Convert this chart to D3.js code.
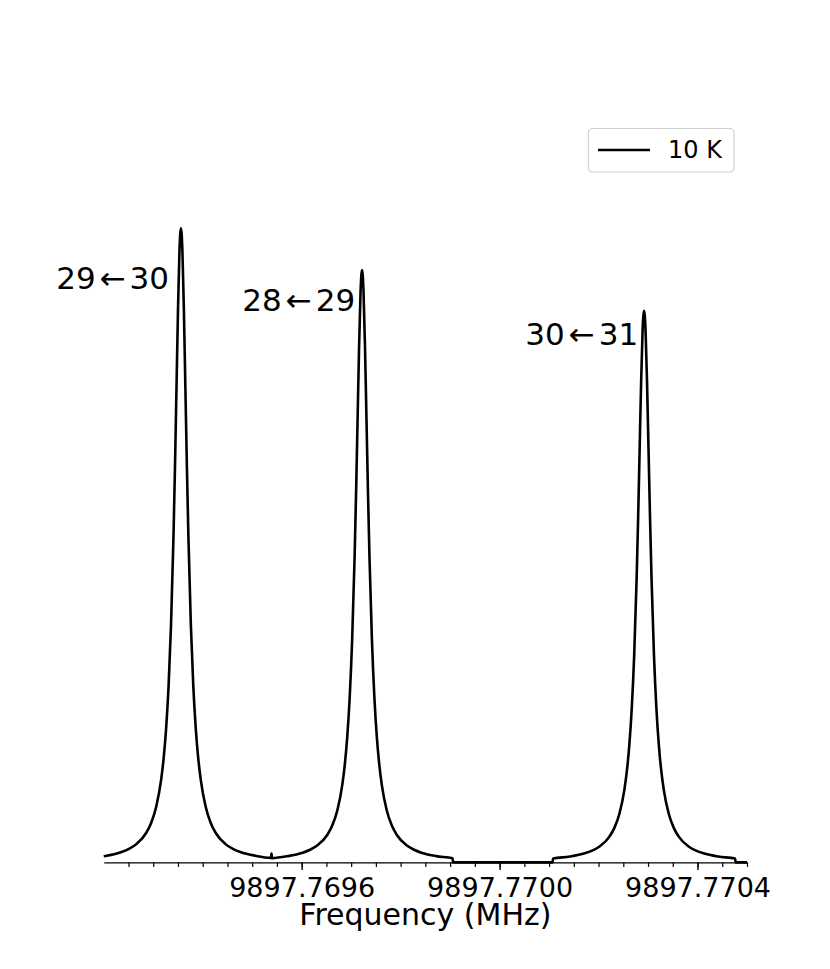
<!DOCTYPE html>
<html>
<head>
<meta charset="utf-8">
<script src="https://d3js.org/d3.v7.min.js"></script>
<style>
body { margin: 0; background: white; }
svg { font-family: "DejaVu Sans", sans-serif; }
</style>
</head>
<body>
<svg width="830" height="969"></svg>
<script>
// spectrum, MHz / relative intensity
var freq = [
    9897.769200, 9897.769206, 9897.769236, 9897.769251, 9897.769266, 9897.769286, 9897.769296,
    9897.769306, 9897.769316, 9897.769321, 9897.769326, 9897.769331, 9897.769336, 9897.769341,
    9897.769344, 9897.769347, 9897.769350, 9897.769353, 9897.769356, 9897.769359, 9897.769362,
    9897.769365, 9897.769368, 9897.769371, 9897.769376, 9897.769381, 9897.769386, 9897.769391,
    9897.769396, 9897.769406, 9897.769416, 9897.769426, 9897.769446, 9897.769461, 9897.769476,
    9897.769506, 9897.769538,
    9897.769539,
    9897.769540, 9897.769572, 9897.769602, 9897.769617, 9897.769632, 9897.769652, 9897.769662,
    9897.769672, 9897.769682, 9897.769687, 9897.769692, 9897.769697, 9897.769702, 9897.769707,
    9897.769710, 9897.769713, 9897.769716, 9897.769719, 9897.769722, 9897.769725, 9897.769728,
    9897.769731, 9897.769734, 9897.769737, 9897.769742, 9897.769747, 9897.769752, 9897.769757,
    9897.769762, 9897.769772, 9897.769782, 9897.769792, 9897.769812, 9897.769827, 9897.769842,
    9897.769872, 9897.769905,
    9897.769906, 9897.770107,
    9897.770108, 9897.770142, 9897.770172, 9897.770187, 9897.770202, 9897.770222, 9897.770232,
    9897.770242, 9897.770252, 9897.770257, 9897.770262, 9897.770267, 9897.770272, 9897.770277,
    9897.770280, 9897.770283, 9897.770286, 9897.770289, 9897.770292, 9897.770295, 9897.770298,
    9897.770301, 9897.770304, 9897.770307, 9897.770312, 9897.770317, 9897.770322, 9897.770327,
    9897.770332, 9897.770342, 9897.770352, 9897.770362, 9897.770382, 9897.770397, 9897.770412,
    9897.770442, 9897.770476,
    9897.770477, 9897.770500
];
var intensity = [
    0.00978, 0.01057, 0.01641, 0.02133, 0.02881, 0.04674, 0.06256,
    0.08767, 0.13055, 0.16396, 0.21070, 0.27766, 0.37524, 0.51639,
    0.62524, 0.74786, 0.86969, 0.96389, 1.00000, 0.96389, 0.86969,
    0.74786, 0.62524, 0.51639, 0.37524, 0.27766, 0.21070, 0.16396,
    0.13055, 0.08767, 0.06256, 0.04674, 0.02881, 0.02133, 0.01641,
    0.01057, 0.00720,
    0.01377,
    0.00673, 0.00987, 0.01533, 0.01992, 0.02691, 0.04366, 0.05843,
    0.08188, 0.12193, 0.15314, 0.19679, 0.25933, 0.35047, 0.48231,
    0.58397, 0.69850, 0.81229, 0.90027, 0.93400, 0.90027, 0.81229,
    0.69850, 0.58397, 0.48231, 0.35047, 0.25933, 0.19679, 0.15314,
    0.12193, 0.08188, 0.05843, 0.04366, 0.02691, 0.01992, 0.01533,
    0.00987, 0.00665,
    0, 0,
    0.00613, 0.00920, 0.01428, 0.01856, 0.02506, 0.04066, 0.05443,
    0.07627, 0.11358, 0.14265, 0.18331, 0.24156, 0.32646, 0.44926,
    0.54396, 0.65064, 0.75663, 0.83858, 0.87000, 0.83858, 0.75663,
    0.65064, 0.54396, 0.44926, 0.32646, 0.24156, 0.18331, 0.14265,
    0.11358, 0.07627, 0.05443, 0.04066, 0.02506, 0.01856, 0.01428,
    0.00920, 0.00613,
    0, 0
];

// transition labels (right edge / baseline in data coords)
var labelLeft = ["29", "28", "30"];
var labelRight = ["30", "29", "31"];
var labelFreq = [9897.769332, 9897.769708, 9897.770280];
var labelInt = [0.9043, 0.8696, 0.8160];

var xdomain = [9897.7692, 9897.7705];
var ydomain = [0, 1.1766];
var majorTicks = [9897.7696, 9897.7700, 9897.7704];
var majorLabels = ["9897.7696", "9897.7700", "9897.7704"];
var minorTicks = [
    9897.76925, 9897.76930, 9897.76935, 9897.76940, 9897.76945, 9897.76950, 9897.76955,
    9897.76960, 9897.76965, 9897.76970, 9897.76975, 9897.76980, 9897.76985, 9897.76990,
    9897.76995, 9897.77000, 9897.77005, 9897.77010, 9897.77015, 9897.77020, 9897.77025,
    9897.77030, 9897.77035, 9897.77040, 9897.77045, 9897.77050
];
var legendLabel = "10 K";

function render() {
    var svg = d3.select("svg");
    svg.selectAll("*").remove();

    var left = 103.75, right = 747, top = 116.3, bottom = 862.4;

    var xs = d3.scaleLinear().domain(xdomain).range([left, right]);
    var ys = d3.scaleLinear().domain(ydomain).range([bottom, top]);

    var line = d3.line()
        .x(function(d, i) { return xs(freq[i]); })
        .y(function(d, i) { return ys(intensity[i]); })
        .curve(d3.curveMonotoneX);

    svg.append("path")
        .attr("d", line(freq))
        .attr("fill", "none")
        .attr("stroke", "black")
        .attr("stroke-width", 2.6)
        .attr("stroke-linejoin", "round");

    // minor ticks
    var minorAxis = d3.axisBottom(xs)
        .tickValues(minorTicks)
        .tickSize(4.5)
        .tickSizeOuter(0)
        .tickFormat("");
    var gMinor = svg.append("g")
        .attr("transform", "translate(0," + bottom + ")")
        .call(minorAxis);
    gMinor.select(".domain").attr("stroke-width", 1.4);
    gMinor.selectAll(".tick line").attr("stroke-width", 1.2);

    // major ticks
    var majorAxis = d3.axisBottom(xs)
        .tickValues(majorTicks)
        .tickSize(7.5)
        .tickFormat(function(d, i) { return majorLabels[i]; });
    var gMajor = svg.append("g")
        .attr("transform", "translate(0," + bottom + ")")
        .call(majorAxis);
    gMajor.select(".domain").remove();
    gMajor.selectAll(".tick line").attr("stroke-width", 1.4);
    gMajor.selectAll(".tick text")
        .attr("font-family", "DejaVu Sans")
        .attr("font-size", 27)
        .attr("fill", "black")
        .attr("y", 35)
        .attr("dy", 0);

    svg.append("text")
        .attr("x", (left + right) / 2)
        .attr("y", 925)
        .attr("text-anchor", "middle")
        .attr("font-size", 30)
        .text("Frequency (MHz)");

    // transition labels
    labelFreq.forEach(function(f, i) {
        var t = svg.append("text")
            .attr("x", xs(f))
            .attr("y", ys(labelInt[i]))
            .attr("text-anchor", "end")
            .attr("font-size", 31);
        t.append("tspan").text(labelLeft[i]);
        t.append("tspan").attr("dx", 4).text("\u2190");
        t.append("tspan").attr("dx", 4).text(labelRight[i]);
    });

    // legend
    var lg = svg.append("g");
    lg.append("rect")
        .attr("x", 588.5).attr("y", 128.5)
        .attr("width", 145.5).attr("height", 43.5)
        .attr("rx", 4)
        .attr("fill", "white")
        .attr("stroke", "#d0d0d0")
        .attr("stroke-width", 1.2);
    lg.append("line")
        .attr("x1", 598).attr("x2", 650)
        .attr("y1", 150).attr("y2", 150)
        .attr("stroke", "black")
        .attr("stroke-width", 2.4);
    lg.append("text")
        .attr("x", 668).attr("y", 157.5)
        .attr("font-size", 24)
        .text(legendLabel);
}

render();
</script>
</body>
</html>
